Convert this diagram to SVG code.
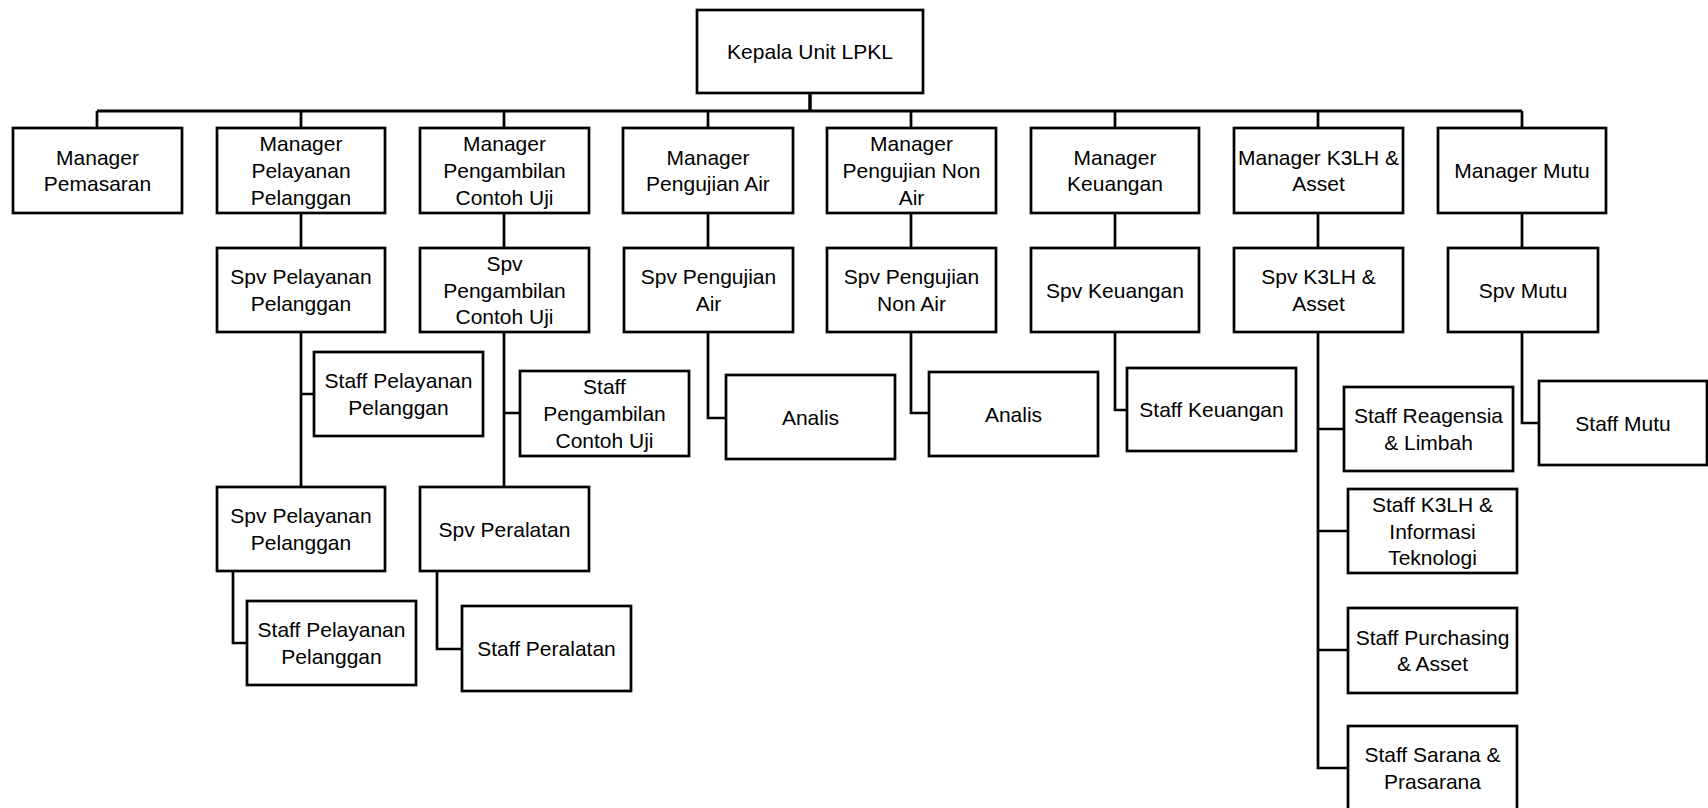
<svg xmlns="http://www.w3.org/2000/svg" width="1708" height="808" viewBox="0 0 1708 808">
<style>
.box{fill:#fff;stroke:#000;stroke-width:2.7}
.t{font-family:"Liberation Sans",Arial,sans-serif;font-size:21px;fill:#000;text-anchor:middle}
.c{fill:none;stroke:#000;stroke-width:2.7}
</style>
<rect width="1708" height="808" fill="#fff"/>
<g id="connectors">
<path class="c" d="M810 93V111" style="stroke-width:3.5"/>
<path class="c" d="M97 111H1522" style="stroke-width:3"/>
<path class="c" d="M97 111V128M301 111V128M504 111V128M708 111V128M911 111V128M1115 111V128M1318 111V128M1522 111V128"/>
<path class="c" d="M301 213V248M504 213V248M708 213V248M911 213V248M1115 213V248M1318 213V248M1522 213V248"/>
<path class="c" d="M301 332V487M301 394H314"/>
<path class="c" d="M504 332V487M504 413H520"/>
<path class="c" d="M708 332V418H726"/>
<path class="c" d="M911 332V413H929"/>
<path class="c" d="M1115 332V410H1127"/>
<path class="c" d="M1318 332V768H1348M1318 429H1344M1318 531H1348M1318 650H1348"/>
<path class="c" d="M1522 332V423H1539"/>
<path class="c" d="M233 571V643H247"/>
<path class="c" d="M437 571V649H462"/>
</g>
<g id="kepala"><rect class="box" x="697" y="10" width="226" height="83"/><text class="t" x="810" y="59">Kepala Unit LPKL</text></g>
<g id="mgr-pemasaran"><rect class="box" x="13" y="128" width="169" height="85"/><text class="t" x="97.5" y="164.5">Manager</text><text class="t" x="97.5" y="191.2">Pemasaran</text></g>
<g id="mgr-pelayanan"><rect class="box" x="217" y="128" width="168" height="85"/><text class="t" x="301" y="151.3">Manager</text><text class="t" x="301" y="178">Pelayanan</text><text class="t" x="301" y="204.7">Pelanggan</text></g>
<g id="mgr-pengambilan"><rect class="box" x="420" y="128" width="169" height="85"/><text class="t" x="504.5" y="151.3">Manager</text><text class="t" x="504.5" y="178">Pengambilan</text><text class="t" x="504.5" y="204.7">Contoh Uji</text></g>
<g id="mgr-pengujian-air"><rect class="box" x="623" y="128" width="170" height="85"/><text class="t" x="708" y="164.5">Manager</text><text class="t" x="708" y="191.2">Pengujian Air</text></g>
<g id="mgr-pengujian-non-air"><rect class="box" x="827" y="128" width="169" height="85"/><text class="t" x="911.5" y="151.3">Manager</text><text class="t" x="911.5" y="178">Pengujian Non</text><text class="t" x="911.5" y="204.7">Air</text></g>
<g id="mgr-keuangan"><rect class="box" x="1031" y="128" width="168" height="85"/><text class="t" x="1115" y="164.5">Manager</text><text class="t" x="1115" y="191.2">Keuangan</text></g>
<g id="mgr-k3lh"><rect class="box" x="1234" y="128" width="169" height="85"/><text class="t" x="1318.5" y="164.5">Manager K3LH &amp;</text><text class="t" x="1318.5" y="191.2">Asset</text></g>
<g id="mgr-mutu"><rect class="box" x="1438" y="128" width="168" height="85"/><text class="t" x="1522" y="178">Manager Mutu</text></g>
<g id="spv-pelayanan"><rect class="box" x="217" y="248" width="168" height="84"/><text class="t" x="301" y="284.2">Spv Pelayanan</text><text class="t" x="301" y="310.8">Pelanggan</text></g>
<g id="spv-pengambilan"><rect class="box" x="420" y="248" width="169" height="84"/><text class="t" x="504.5" y="270.8">Spv</text><text class="t" x="504.5" y="297.5">Pengambilan</text><text class="t" x="504.5" y="324.2">Contoh Uji</text></g>
<g id="spv-pengujian-air"><rect class="box" x="624" y="248" width="169" height="84"/><text class="t" x="708.5" y="284.2">Spv Pengujian</text><text class="t" x="708.5" y="310.8">Air</text></g>
<g id="spv-pengujian-non-air"><rect class="box" x="827" y="248" width="169" height="84"/><text class="t" x="911.5" y="284.2">Spv Pengujian</text><text class="t" x="911.5" y="310.8">Non Air</text></g>
<g id="spv-keuangan"><rect class="box" x="1031" y="248" width="168" height="84"/><text class="t" x="1115" y="297.5">Spv Keuangan</text></g>
<g id="spv-k3lh"><rect class="box" x="1234" y="248" width="169" height="84"/><text class="t" x="1318.5" y="284.2">Spv K3LH &amp;</text><text class="t" x="1318.5" y="310.8">Asset</text></g>
<g id="spv-mutu"><rect class="box" x="1448" y="248" width="150" height="84"/><text class="t" x="1523" y="297.5">Spv Mutu</text></g>
<g id="staff-pelayanan-1"><rect class="box" x="314" y="352" width="169" height="84"/><text class="t" x="398.5" y="388.2">Staff Pelayanan</text><text class="t" x="398.5" y="414.8">Pelanggan</text></g>
<g id="staff-pengambilan"><rect class="box" x="520" y="371" width="169" height="85"/><text class="t" x="604.5" y="394.3">Staff</text><text class="t" x="604.5" y="421">Pengambilan</text><text class="t" x="604.5" y="447.7">Contoh Uji</text></g>
<g id="analis-air"><rect class="box" x="726" y="375" width="169" height="84"/><text class="t" x="810.5" y="424.5">Analis</text></g>
<g id="analis-non-air"><rect class="box" x="929" y="372" width="169" height="84"/><text class="t" x="1013.5" y="421.5">Analis</text></g>
<g id="staff-keuangan"><rect class="box" x="1127" y="368" width="169" height="83"/><text class="t" x="1211.5" y="417">Staff Keuangan</text></g>
<g id="staff-reagensia"><rect class="box" x="1344" y="387" width="169" height="84"/><text class="t" x="1428.5" y="423.2">Staff Reagensia</text><text class="t" x="1428.5" y="449.8">&amp; Limbah</text></g>
<g id="staff-mutu"><rect class="box" x="1539" y="381" width="168" height="84"/><text class="t" x="1623" y="430.5">Staff Mutu</text></g>
<g id="staff-k3lh-it"><rect class="box" x="1348" y="489" width="169" height="84"/><text class="t" x="1432.5" y="511.8">Staff K3LH &amp;</text><text class="t" x="1432.5" y="538.5">Informasi</text><text class="t" x="1432.5" y="565.2">Teknologi</text></g>
<g id="staff-purchasing"><rect class="box" x="1348" y="608" width="169" height="85"/><text class="t" x="1432.5" y="644.7">Staff Purchasing</text><text class="t" x="1432.5" y="671.3">&amp; Asset</text></g>
<g id="staff-sarana"><rect class="box" x="1348" y="726" width="169" height="86"/><text class="t" x="1432.5" y="762.2">Staff Sarana &amp;</text><text class="t" x="1432.5" y="788.8">Prasarana</text></g>
<g id="spv-pelayanan-2"><rect class="box" x="217" y="487" width="168" height="84"/><text class="t" x="301" y="523.2">Spv Pelayanan</text><text class="t" x="301" y="549.8">Pelanggan</text></g>
<g id="spv-peralatan"><rect class="box" x="420" y="487" width="169" height="84"/><text class="t" x="504.5" y="536.5">Spv Peralatan</text></g>
<g id="staff-pelayanan-2"><rect class="box" x="247" y="601" width="169" height="84"/><text class="t" x="331.5" y="637.2">Staff Pelayanan</text><text class="t" x="331.5" y="663.8">Pelanggan</text></g>
<g id="staff-peralatan"><rect class="box" x="462" y="606" width="169" height="85"/><text class="t" x="546.5" y="656">Staff Peralatan</text></g>
</svg>
